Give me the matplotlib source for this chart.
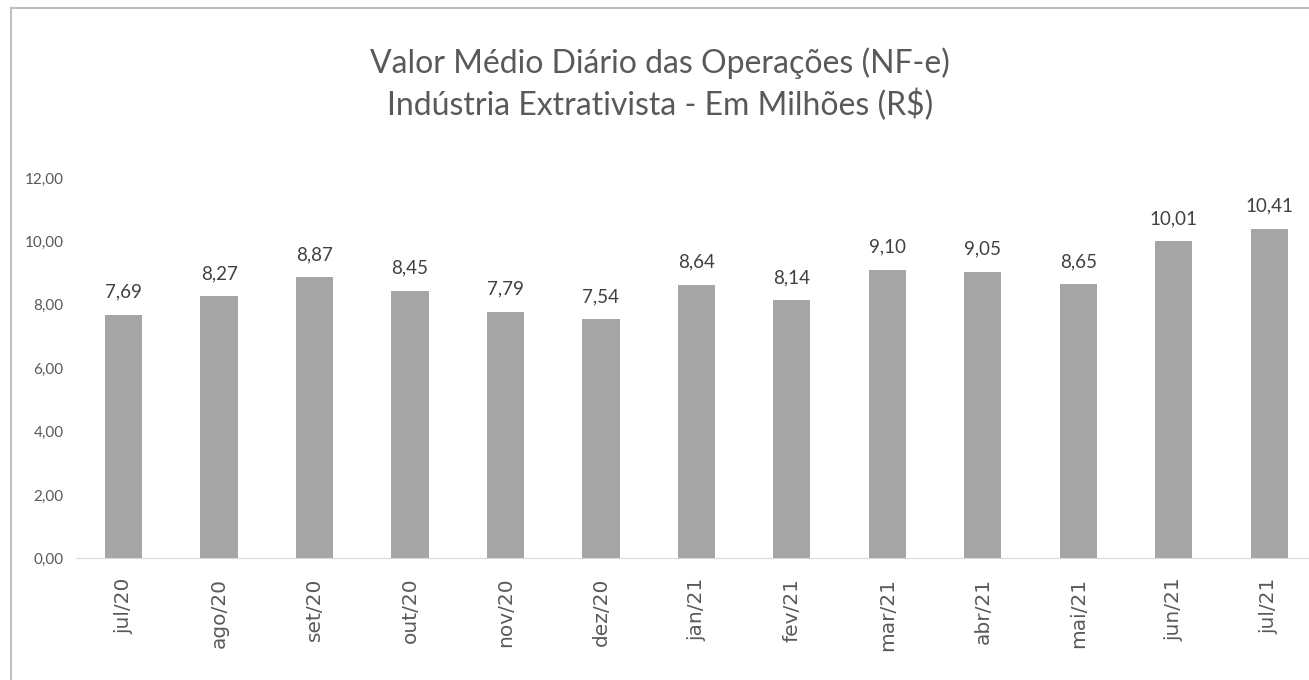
import matplotlib.pyplot as plt
import numpy as np

meses = ['jul/20', 'ago/20', 'set/20', 'out/20', 'nov/20', 'dez/20', 'jan/21',
         'fev/21', 'mar/21', 'abr/21', 'mai/21', 'jun/21', 'jul/21']
valores = [7.69, 8.27, 8.87, 8.45, 7.79, 7.54, 8.64, 8.14, 9.10, 9.05, 8.65, 10.01, 10.41]
y_ticks = [0, 2, 4, 6, 8, 10, 12]

plt.rcParams['font.family'] = ['Lato', 'DejaVu Sans']

fig = plt.figure(figsize=(13.09, 6.8), dpi=100)
ax = fig.add_axes([0.058, 0.179, 0.948, 0.559])

x = np.arange(len(meses))
ax.bar(x, valores, width=0.39, color='#a5a5a5')

for xi, v in zip(x, valores):
    ax.text(xi, v + 0.45, f'{v:.2f}'.replace('.', ','), ha='center', va='bottom',
            fontsize=13.5, color='#404040')

ax.set_xlim(-0.5, 12.5)
ax.set_ylim(0, 12)
ax.set_yticks(y_ticks)
ax.set_yticklabels([f'{t:.2f}'.replace('.', ',') for t in y_ticks],
                   fontsize=11, color='#595959')
ax.set_xticks(x)
ax.set_xticklabels(meses, rotation=90, fontsize=14.5, color='#595959',
                   family='DejaVu Sans')
ax.tick_params(length=0, pad=14)
ax.tick_params(axis='y', pad=9)

for s in ['top', 'right', 'left']:
    ax.spines[s].set_visible(False)
ax.spines['bottom'].set_color('#d9d9d9')

fig.text(0.504, 0.907, 'Valor Médio Diário das Operações (NF-e)', ha='center',
         va='center', fontsize=23, color='#595959')
fig.text(0.504, 0.846, 'Indústria Extrativista - Em Milhões (R$)', ha='center',
         va='center', fontsize=23, color='#595959')

# borda do gráfico
fig.add_artist(plt.Line2D([0.0084, 1.0], [0.988, 0.988], color='#bfbfbf', lw=1.5))
fig.add_artist(plt.Line2D([0.0084, 0.0084], [0.0, 0.988], color='#bfbfbf', lw=1.5))

fig.savefig('out.png', dpi=100)
